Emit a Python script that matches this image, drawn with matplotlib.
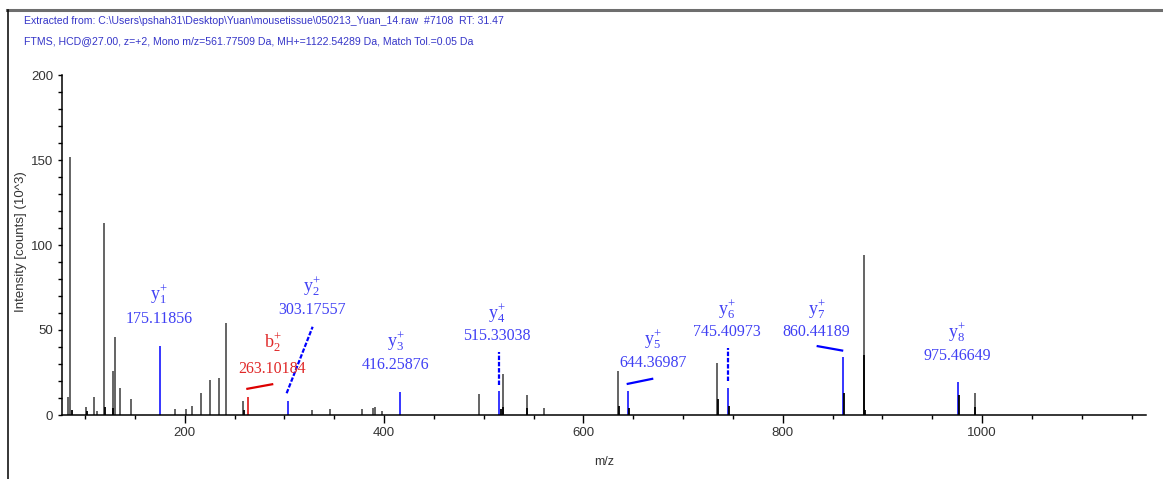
import matplotlib
matplotlib.use('Agg')
import matplotlib.pyplot as plt
from matplotlib.lines import Line2D
from matplotlib.ticker import MultipleLocator, FixedLocator

# ---------------- data ----------------
header_line1 = r"Extracted from: C:\Users\pshah31\Desktop\Yuan\mousetissue\050213_Yuan_14.raw  #7108  RT: 31.47"
header_line2 = "FTMS, HCD@27.00, z=+2, Mono m/z=561.77509 Da, MH+=1122.54289 Da, Match Tol.=0.05 Da"

# unassigned peaks (m/z, intensity x10^3)
peak_mz = [82.8, 85.1, 100.5, 109.2, 111.6, 119.2, 127.6, 129.6, 135.3, 146.0,
           190.1, 200.9, 207.5, 216.2, 225.0, 234.3, 241.3, 258.7, 327.6, 345.7,
           377.8, 388.5, 390.8, 398.2, 495.2, 519.3, 543.0, 560.7, 634.7, 734.0,
           881.2, 992.6]
peak_int = [10.8, 151.8, 4.5, 10.8, 2.5, 112.7, 25.7, 45.7, 15.9, 9.2,
            3.3, 3.3, 5.3, 13.1, 20.6, 21.8, 53.9, 8.4, 2.8, 3.3,
            3.3, 4.1, 4.5, 2.5, 12.2, 24.3, 11.6, 4.0, 25.7, 30.8,
            94.3, 12.7]

# short dark centroid bars beside peaks
shoulder_mz = [86.8, 101.4, 119.7, 128.4, 259.0, 516.9, 519.8, 543.5, 635.2,
               645.4, 735.0, 746.4, 861.4, 881.8, 883.0, 976.5, 993.2]
shoulder_int = [3.0, 2.5, 5.0, 4.0, 3.0, 3.5, 5.0, 4.0, 5.3,
                4.0, 9.6, 5.3, 13.0, 35.2, 3.0, 11.8, 4.7]

# assigned fragment ions
ion_type = ['y', 'b', 'y', 'y', 'y', 'y', 'y', 'y', 'y']
ion_num = ['1', '2', '2', '3', '4', '5', '6', '7', '8']
ion_mz = [175.11856, 263.10184, 303.17557, 416.25876, 515.33038,
          644.36987, 745.40973, 860.44189, 975.46649]
ion_int = [40.6, 10.8, 8.4, 13.3, 14.1, 14.2, 16.1, 34.0, 19.2]

x_major = [200, 400, 600, 800, 1000]

# ---------------- layout / style ----------------
BLUE_LINE = '#0000ff'
BLUE_TEXT = '#4040f4'
RED_LINE = '#dd0000'
RED_TEXT = '#e02828'
SANS = ['Liberation Sans Narrow', 'Liberation Sans', 'DejaVu Sans']
SERIF = ['Liberation Serif', 'DejaVu Serif']

plt.rcParams['mathtext.fontset'] = 'custom'
plt.rcParams['mathtext.rm'] = 'Liberation Serif'
plt.rcParams['mathtext.it'] = 'Liberation Serif:italic'
plt.rcParams['mathtext.bf'] = 'Liberation Serif:bold'

# label positions (data coords): centre x, label centre y, number centre y
label_x = [174.1, 288.0, 327.6, 411.9, 513.5, 670.1, 744.2, 834.0, 974.8]
label_y = [71.2, 42.9, 75.9, 43.5, 60.0, 44.7, 62.4, 62.4, 48.8]
number_y = [56.5, 27.1, 61.8, 29.7, 46.2, 30.6, 48.8, 48.8, 35.0]

# connectors: ion index, x0, y0, x1, y1, linestyle
connectors = [
    (1, 261.7, 15.3, 288.8, 18.2, '-'),
    (2, 302.2, 12.8, 328.3, 51.9, (0, (2, 0.8))),
    (4, 515.3, 17.6, 515.3, 37.1, (0, (2, 0.8))),
    (5, 643.4, 18.2, 670.1, 21.4, '-'),
    (6, 745.4, 20.0, 745.4, 39.4, (0, (2, 0.8))),
    (7, 834.0, 40.6, 860.7, 37.8, '-'),
]

W, H = 1163, 479
fig = plt.figure(figsize=(W / 100, H / 100), dpi=100)
fig.patch.set_facecolor('white')

# screenshot frame
fig.add_artist(Line2D([7 / W, 1.0], [1 - 9.5 / H, 1 - 9.5 / H], transform=fig.transFigure,
                      color='#6e6e6e', lw=2.2))
fig.add_artist(Line2D([7.5 / W, 7.5 / W], [0, 1 - 9.5 / H], transform=fig.transFigure,
                      color='black', lw=1.1))

fig.text(24 / W, 1 - 21 / H, header_line1, color='#3535c8', fontsize=7.6,
         family=SANS, ha='left', va='center')
fig.text(24 / W, 1 - 41 / H, header_line2, color='#3535c8', fontsize=7.6,
         family=SANS, ha='left', va='center')

ax = fig.add_axes([62 / W, (H - 415) / H, (1146 - 62) / W, (415 - 75) / H])
ax.set_xlim(76.8, 1164.5)
ax.set_ylim(0, 200)

ax.vlines(peak_mz, 0, peak_int, colors='#3a3a3a', lw=1.1)
ion_line_colors = [RED_LINE if t == 'b' else BLUE_LINE for t in ion_type]
ax.vlines(ion_mz, 0, ion_int, colors=ion_line_colors, lw=1.1)
ax.vlines(shoulder_mz, 0, shoulder_int, colors='black', lw=1.3)

for i, (t, n, mz) in enumerate(zip(ion_type, ion_num, ion_mz)):
    tc = RED_TEXT if t == 'b' else BLUE_TEXT
    ax.text(label_x[i], label_y[i], t + r'$_{' + n + r'}^{+}$', color=tc,
            family=SERIF, fontsize=13, ha='center', va='center')
    ax.text(label_x[i], number_y[i], f'{mz:.5f}', color=tc,
            family=SERIF, fontsize=11.5, ha='center', va='center')

for idx, x0, y0, x1, y1, ls in connectors:
    c = RED_LINE if ion_type[idx] == 'b' else BLUE_LINE
    ax.plot([x0, x1], [y0, y1], color=c, lw=1.6, ls=ls, solid_capstyle='butt')

for s in ['top', 'right']:
    ax.spines[s].set_visible(False)
for s in ['left', 'bottom']:
    ax.spines[s].set_linewidth(1.1)
    ax.spines[s].set_color('black')

ax.xaxis.set_major_locator(FixedLocator(x_major))
ax.xaxis.set_minor_locator(MultipleLocator(50))
ax.yaxis.set_major_locator(MultipleLocator(50))
ax.yaxis.set_minor_locator(MultipleLocator(10))
ax.tick_params(axis='x', which='major', length=5.5, width=1.0, pad=3,
               labelsize=9.5, labelcolor='#333333')
ax.tick_params(axis='x', which='minor', length=3.0, width=1.0)
ax.tick_params(axis='y', which='both', length=3.0, width=1.0, pad=3.5,
               labelsize=9.5, labelcolor='#333333')
for lab in ax.get_xticklabels() + ax.get_yticklabels():
    lab.set_family(SANS)

fig.text(604 / W, 1 - 462 / H, 'm/z', fontsize=9, family=SANS, color='#333333',
         ha='center', va='center')
fig.text(21 / W, 1 - 242 / H, 'Intensity [counts] (10^3)', fontsize=9.5, family=SANS,
         color='#333333', rotation=90, ha='center', va='center')

fig.savefig('out.png', dpi=100, facecolor='white')
